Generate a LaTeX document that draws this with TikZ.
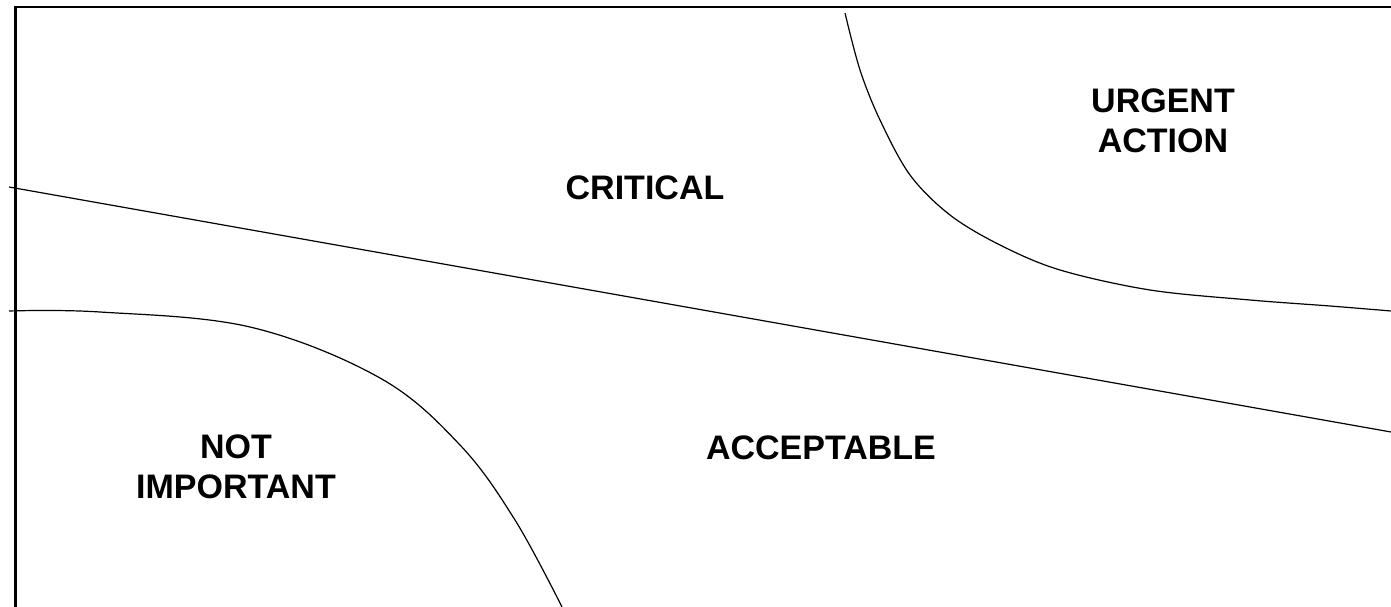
\documentclass[tikz,border=0pt]{standalone}
\usepackage{fontspec}
\setmainfont{Liberation Sans}
\usepackage{tikz}
\usetikzlibrary{positioning}

\begin{document}
\begin{tikzpicture}[x=1pt, y=-1pt,
    zone/.style={font=\fontsize{34}{40.5}\selectfont\bfseries, align=center, inner sep=0pt},
    axisline/.style={line width=2.2pt},
    boundary/.style={line width=1.2pt}]
  \useasboundingbox (0,0) rectangle (1391,607);

  % --- Axes (only top and left sides shown) ---
  \draw[axisline] (15.5,607) -- (15.5,7) -- (1391,7);

  % --- Region boundaries ---
  % Diagonal divider
  \coordinate (divL) at (9,187);
  \coordinate (divR) at (1391,432);
  \draw[boundary] (divL) -- (divR);

  % Lower-left curve
  \draw[boundary] plot[smooth, tension=0.6] coordinates {
    (9,311) (100,312) (250,327) (380,378) (460,445)
    (515,520) (562,607)};

  % Upper-right curve
  \draw[boundary] plot[smooth, tension=0.55] coordinates {
    (845,13) (860,70) (880,120) (910,175) (950,215) (1000,245)
    (1060,270) (1150,290) (1250,300) (1330,306) (1391,311)};

  % --- Zone labels ---
  \node[zone] (critical) at (645,187.5) {CRITICAL};
  \node[zone] (urgent) at (1163,121) {URGENT\\ACTION};
  \node[zone] (notimp) at (236,467) {NOT\\IMPORTANT};
  \node[zone] (accept) at (821,448) {ACCEPTABLE};

\end{tikzpicture}
\end{document}
